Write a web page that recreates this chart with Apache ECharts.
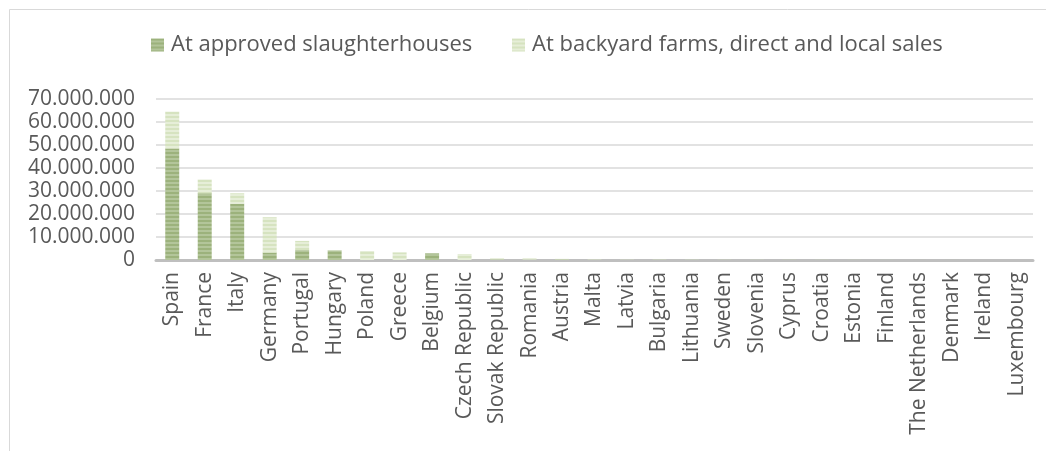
<!DOCTYPE html>
<html>
<head>
<meta charset="utf-8">
<script src="https://cdn.jsdelivr.net/npm/echarts@6/dist/echarts.min.js"></script>
<style>
html,body{margin:0;padding:0;background:#fff;}
#c{width:1046px;height:451px;}
</style>
</head>
<body>
<div id="c"></div>
<script>
const categories = ["Spain","France","Italy","Germany","Portugal","Hungary","Poland","Greece","Belgium","Czech Republic","Slovak Republic","Romania","Austria","Malta","Latvia","Bulgaria","Lithuania","Sweden","Slovenia","Cyprus","Croatia","Estonia","Finland","The Netherlands","Denmark","Ireland","Luxembourg"];
const slaughterhouses = [48500000,29000000,24500000,3200000,4300000,4200000,0,0,2900000,0,300000,200000,300000,100000,50000,100000,80000,60000,50000,60000,50000,30000,20000,20000,20000,10000,5000];
const backyard = [16000000,6000000,4500000,15400000,4000000,100000,3900000,3300000,0,2600000,500000,600000,200000,150000,100000,100000,80000,60000,60000,40000,40000,30000,20000,10000,10000,10000,5000];
const yTicks = [0,10000000,20000000,30000000,40000000,50000000,60000000,70000000];
const seriesNames = ["At approved slaughterhouses","At backyard farms, direct and local sales"];

function stripe(a, b) {
  const c = document.createElement('canvas');
  c.width = 4; c.height = 4;
  const ctx = c.getContext('2d');
  ctx.fillStyle = a; ctx.fillRect(0,0,4,4);
  ctx.fillStyle = b; ctx.fillRect(0,2,4,2);
  return {image: c, repeat: 'repeat'};
}
const darkFill = stripe('#9cb27c','#b3c59a');
const lightFill = stripe('#d6e3c0','#e6eed8');

const fmt = v => String(v).replace(/\B(?=(\d{3})+(?!\d))/g, '.');
const legendText = {fontFamily: 'Open Sans', fontSize: 22, color: '#595959', padding: [0,0,0,2]};
const chart = echarts.init(document.getElementById('c'), null, {renderer:'canvas'});
chart.setOption({
  animation: false,
  backgroundColor: '#fff',
  graphic: [{type:'rect', shape:{x:9.5,y:9.5,width:1100,height:500}, style:{fill:'none', stroke:'#d9d9d9', lineWidth:1}, z:-1}],
  legend: [
    {left: 151, top: 34, padding: 0, itemWidth: 13, itemHeight: 13, icon: 'rect', textStyle: legendText, data: [seriesNames[0]]},
    {left: 512, top: 34, padding: 0, itemWidth: 13, itemHeight: 13, icon: 'rect', textStyle: legendText, data: [seriesNames[1]]}
  ],
  grid: {left: 156, right: 13, top: 99, bottom: 191},
  xAxis: {
    type: 'category', data: categories,
    axisLine: {lineStyle: {color: '#bfbfbf', width: 3}},
    axisTick: {show: false},
    axisLabel: {rotate: 90, interval: 0, fontFamily: 'Open Sans', fontSize: 21, color: '#595959', margin: 12}
  },
  yAxis: {
    type: 'value', min: 0, max: 70000000, interval: 10000000,
    axisLine: {show: false}, axisTick: {show: false},
    splitLine: {lineStyle: {color: '#d9d9d9', width: 1.5}},
    axisLabel: {fontFamily: 'Open Sans', fontSize: 21, color: '#595959', margin: 21, formatter: v => fmt(v)}
  },
  series: [
    {name: seriesNames[0], type: 'bar', stack: 's', data: slaughterhouses, barWidth: '43%', itemStyle: {color: darkFill}},
    {name: seriesNames[1], type: 'bar', stack: 's', data: backyard, barWidth: '43%', itemStyle: {color: lightFill}}
  ]
});
</script>
</body>
</html>
